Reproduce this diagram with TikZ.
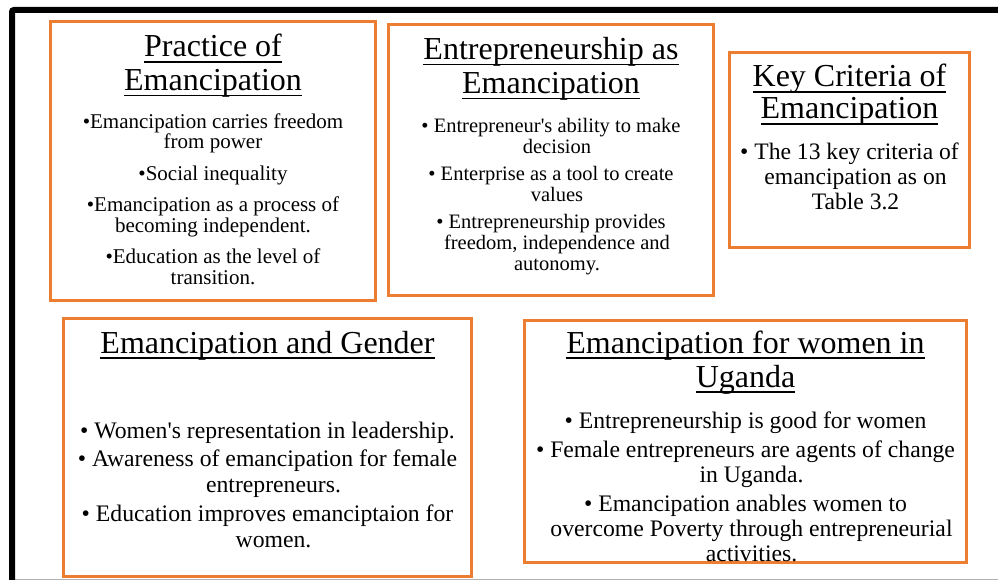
\documentclass[tikz,border=0pt]{standalone}
\usepackage{fontspec}
\setmainfont{Liberation Serif}
\definecolor{boxorange}{HTML}{ED7D31}
\newcommand\ulin[1]{\leavevmode\setbox0\hbox{#1}\rlap{\rule[-6pt]{\wd0}{1.8pt}}\box0}
\newcommand\cont{\hspace*{12pt}}
\begin{document}
\begin{tikzpicture}[x=1pt,y=-1pt,
  box/.style={draw=boxorange,line width=2.5pt,rectangle,inner sep=0pt},
  ttl/.style={align=center,inner sep=0pt,anchor=base,font=\fontsize{32}{33.5}\selectfont},
  body/.style={align=center,inner sep=0pt,anchor=base}]
\useasboundingbox (0,0) rectangle (998,580);
\fill[white] (0,0) rectangle (998,580);
\draw[black!30, line width=1pt] (12,579) -- (998,579);
\draw[line width=6pt, rounded corners=2pt] (12,581) -- (12,10) -- (998,10);

% boxes
\node[box, minimum width=325pt, minimum height=279pt] (b1) at (213,161) {};
\node[box, minimum width=325pt, minimum height=271pt] (b2) at (551,160) {};
\node[box, minimum width=240pt, minimum height=195pt] (b3) at (849.5,150) {};
\node[box, minimum width=408pt, minimum height=258pt] (b4) at (267.5,447.5) {};
\node[box, minimum width=442pt, minimum height=242pt] (b5) at (745.5,441.5) {};

% box 1 (anchor base = baseline of last line)
\node[ttl] (t1) at (213,90.5) {\ulin{Practice of}\\\ulin{Emancipation}};
\node[body, font=\fontsize{21}{20.5}\selectfont] (c1) at (213,284)
 {•Emancipation carries freedom\\from power\\[11pt]
  •Social inequality\\[11pt]
  •Emancipation as a process of\\becoming independent.\\[11pt]
  •Education as the level of\\transition.};

% box 2
\node[ttl] (t2) at (551,93.5) {\ulin{Entrepreneurship as}\\[0.5pt]\ulin{Emancipation}};
\node[body, font=\fontsize{20.5}{21}\selectfont] (c2) at (551,270)
 {• Entrepreneur\textquotesingle s ability to make\\\cont decision\\[6pt]
  • Enterprise as a tool to create\\\cont values\\[6pt]
  • Entrepreneurship provides\\\cont freedom, independence and\\\cont autonomy.};

% box 3
\node[ttl] (t3) at (849.5,119) {\ulin{Key Criteria of}\\[-1.5pt]\ulin{Emancipation}};
\node[body, font=\fontsize{23.6}{25.5}\selectfont] (c3) at (849.5,210)
 {• The 13 key criteria of\\\cont emancipation as on\\\cont Table 3.2};

% box 4
\node[ttl] (t4) at (267.5,353) {\ulin{Emancipation and Gender}};
\node[body, font=\fontsize{23.7}{26}\selectfont] (c4) at (267.5,547)
 {• Women\textquotesingle s representation in leadership.\\[2.5pt]
  • Awareness of emancipation for female\\\cont entrepreneurs.\\[2.5pt]
  • Education improves emanciptaion for\\\cont women.};

% box 5
\node[ttl] (t5) at (745.5,387) {\ulin{Emancipation for women in}\\[0.5pt]\ulin{Uganda}};
\node[body, font=\fontsize{23.7}{25}\selectfont] (c5) at (745.5,561)
 {• Entrepreneurship is good for women\\[4pt]
  • Female entrepreneurs are agents of change\\\cont in Uganda.\\[4pt]
  • Emancipation anables women to\\\cont overcome Poverty through entrepreneurial\\\cont activities.};
\end{tikzpicture}
\end{document}
